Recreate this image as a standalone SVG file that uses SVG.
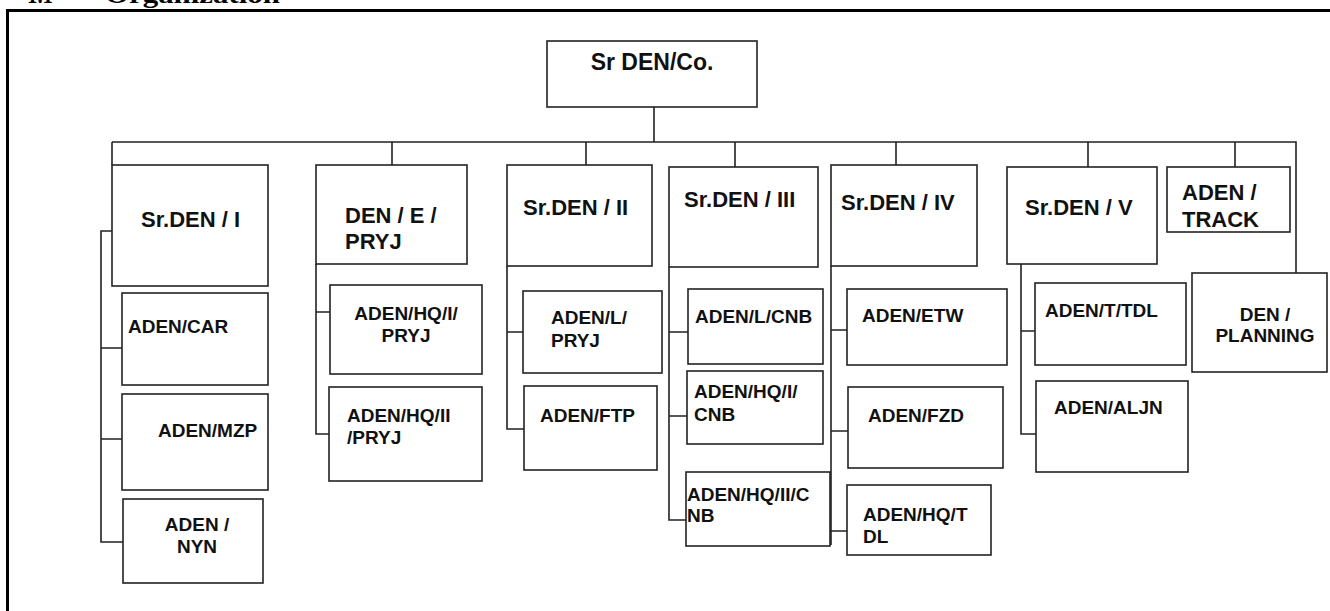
<svg xmlns="http://www.w3.org/2000/svg" width="1330" height="611" viewBox="0 0 1330 611">
<style>
.box{fill:#fff;stroke:#222;stroke-width:1.6}
.conn{fill:none;stroke:#222;stroke-width:1.6}
.t{font-family:"Liberation Sans",Arial,sans-serif;font-weight:bold;fill:#111}
.top{font-size:22px}
.sub{font-size:19px}
.title{font-family:"Liberation Serif","Times New Roman",serif;font-weight:bold;font-size:26px;fill:#000}
.m{text-anchor:middle}
</style>
<rect width="1330" height="611" fill="#fff"/>
<g id="title">
<text class="title" x="27" y="3" textLength="26" lengthAdjust="spacingAndGlyphs">1.1</text>
<text class="title" x="105" y="3" textLength="175" lengthAdjust="spacingAndGlyphs">Organization</text>
</g>
<path id="frame" d="M7.5 611 V10.5 H1330" fill="none" stroke="#000" stroke-width="3"/>
<g id="connectors" class="conn">
<path d="M654 107 V142 M112 142 H1296 V273 M112 142 V165 M392 142 V165 M586 142 V165 M735 142 V167 M896 142 V165 M1088 142 V167 M1235 142 V167"/>
<path d="M112 231 H101 V542 H123 M101 348 H122 M101 439 H122"/>
<path d="M316 264 V434 H329 M316 312 H330"/>
<path d="M507 266 V429 H524 M507 332 H523"/>
<path d="M669 267 V520 H686 M669 332 H688 M669 416 H687"/>
<path d="M831 266 V545 M831 330 H847 M831 431 H848 M831 531 H847"/>
<path d="M1021 264 V434 H1036 M1021 331 H1035"/>
</g>
<g id="root"><rect class="box" x="547" y="41" width="210" height="66"/><text class="t m" x="652" y="70" font-size="23">Sr DEN/Co.</text></g>
<g id="srden1"><rect class="box" x="112" y="165" width="156" height="121"/><text class="t top" x="141" y="227">Sr.DEN / I</text></g>
<g id="den-e-pryj"><rect class="box" x="316" y="165" width="151" height="99"/><text class="t top" x="345" y="223">DEN / E /</text><text class="t top" x="345" y="249">PRYJ</text></g>
<g id="srden2"><rect class="box" x="507" y="165" width="145" height="101"/><text class="t top" x="523" y="215">Sr.DEN / II</text></g>
<g id="srden3"><rect class="box" x="669" y="167" width="149" height="100"/><text class="t top" x="684" y="207">Sr.DEN / III</text></g>
<g id="srden4"><rect class="box" x="831" y="165" width="146" height="101"/><text class="t top" x="841" y="210">Sr.DEN / IV</text></g>
<g id="srden5"><rect class="box" x="1007" y="167" width="150" height="97"/><text class="t top" x="1025" y="215">Sr.DEN / V</text></g>
<g id="aden-track"><rect class="box" x="1167" y="167" width="123" height="65"/><text class="t top" x="1182" y="200">ADEN /</text><text class="t top" x="1182" y="227">TRACK</text></g>
<g id="den-planning"><rect class="box" x="1192" y="273" width="135" height="99"/><text class="t sub m" x="1265" y="321">DEN /</text><text class="t sub m" x="1265" y="342">PLANNING</text></g>
<g id="aden-car"><rect class="box" x="122" y="293" width="146" height="92"/><text class="t sub" x="128" y="333">ADEN/CAR</text></g>
<g id="aden-mzp"><rect class="box" x="122" y="394" width="146" height="96"/><text class="t sub" x="158" y="437">ADEN/MZP</text></g>
<g id="aden-nyn"><rect class="box" x="123" y="499" width="140" height="84"/><text class="t sub m" x="197" y="531">ADEN /</text><text class="t sub m" x="197" y="553">NYN</text></g>
<g id="aden-hq1-pryj"><rect class="box" x="330" y="285" width="152" height="89"/><text class="t sub m" x="406" y="320">ADEN/HQ/I/</text><text class="t sub m" x="406" y="342">PRYJ</text></g>
<g id="aden-hq2-pryj"><rect class="box" x="329" y="387" width="153" height="94"/><text class="t sub" x="347" y="422">ADEN/HQ/II</text><text class="t sub" x="347" y="444">/PRYJ</text></g>
<g id="aden-l-pryj"><rect class="box" x="523" y="291" width="139" height="82"/><text class="t sub" x="551" y="324">ADEN/L/</text><text class="t sub" x="551" y="347">PRYJ</text></g>
<g id="aden-ftp"><rect class="box" x="524" y="386" width="133" height="84"/><text class="t sub" x="540" y="422">ADEN/FTP</text></g>
<g id="aden-l-cnb"><rect class="box" x="688" y="289" width="135" height="75"/><text class="t sub" x="695" y="323">ADEN/L/CNB</text></g>
<g id="aden-hq1-cnb"><rect class="box" x="687" y="371" width="136" height="73"/><text class="t sub" x="694" y="398">ADEN/HQ/I/</text><text class="t sub" x="694" y="421">CNB</text></g>
<g id="aden-hq2-cnb"><rect class="box" x="686" y="472" width="144" height="74"/><text class="t sub" x="687" y="501">ADEN/HQ/II/C</text><text class="t sub" x="687" y="522">NB</text></g>
<g id="aden-etw"><rect class="box" x="847" y="289" width="160" height="76"/><text class="t sub" x="862" y="322">ADEN/ETW</text></g>
<g id="aden-fzd"><rect class="box" x="848" y="387" width="155" height="81"/><text class="t sub" x="868" y="422">ADEN/FZD</text></g>
<g id="aden-hq-tdl"><rect class="box" x="847" y="485" width="144" height="70"/><text class="t sub" x="863" y="521">ADEN/HQ/T</text><text class="t sub" x="863" y="543">DL</text></g>
<g id="aden-t-tdl"><rect class="box" x="1035" y="283" width="151" height="82"/><text class="t sub" x="1045" y="317">ADEN/T/TDL</text></g>
<g id="aden-aljn"><rect class="box" x="1036" y="381" width="152" height="91"/><text class="t sub" x="1054" y="414">ADEN/ALJN</text></g>
</svg>
